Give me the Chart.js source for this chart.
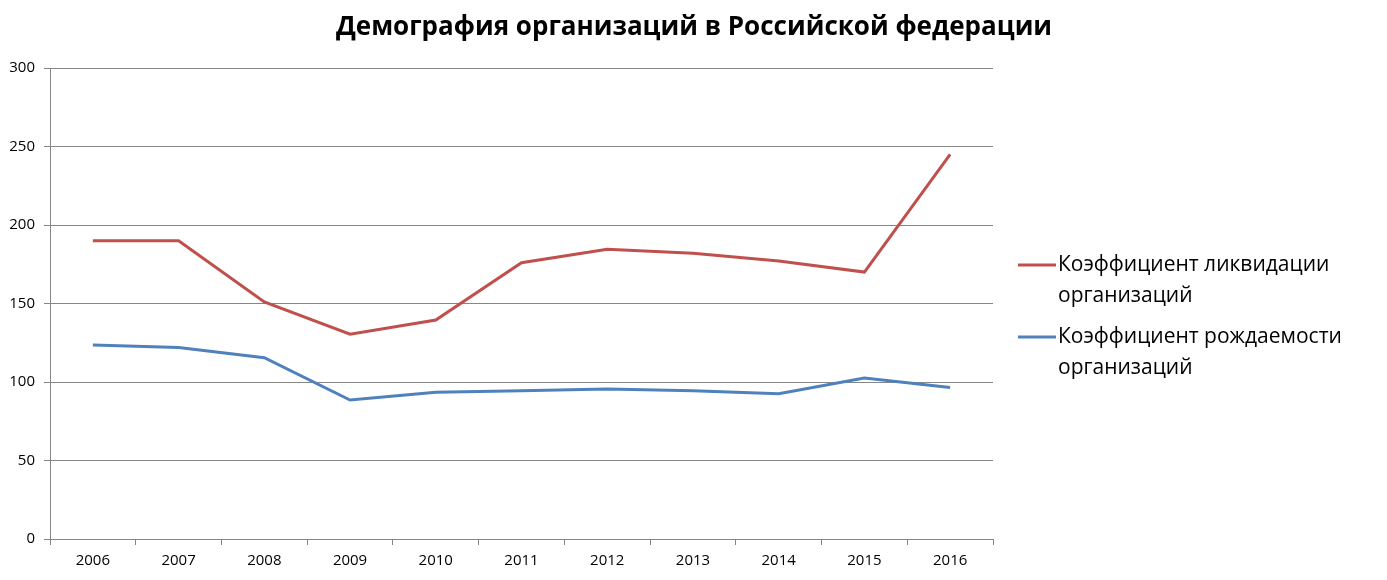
<!DOCTYPE html>
<html>
<head>
<meta charset="utf-8">
<script src="https://cdn.jsdelivr.net/npm/chart.js@4"></script>
<style>
  html, body { margin: 0; padding: 0; background: #fff; }
  #wrap { width: 1387px; height: 580px; }
</style>
</head>
<body>
<div id="wrap"><canvas id="chart" width="1387" height="580"></canvas></div>
<script>
const years = ['2006', '2007', '2008', '2009', '2010', '2011', '2012', '2013', '2014', '2015', '2016'];
const liquidation = [190, 190, 151, 130.5, 139.5, 176, 184.5, 182, 177, 170, 245];
const birth = [123.5, 122, 115.5, 88.5, 93.5, 94.5, 95.5, 94.5, 92.5, 102.5, 96.5];
const legendLines = [
    ['Коэффициент ликвидации', 'организаций'],
    ['Коэффициент рождаемости', 'организаций']
];
const yTicks = [0, 50, 100, 150, 200, 250, 300];

const titleText = 'Демография организаций в Российской федерации';

// title + wrapped legend drawn by hand
const decor = {
    id: 'decor',
    afterDraw(chart) {
        const ctx = chart.ctx;
        ctx.save();
        ctx.fillStyle = '#000';
        ctx.font = 'bold 26px "Open Sans"';
        ctx.textAlign = 'center';
        ctx.textBaseline = 'middle';
        ctx.fillText(titleText, 694, 28);

        ctx.font = '21px "Open Sans"';
        ctx.textAlign = 'left';
        chart.data.datasets.forEach((ds, i) => {
            const y0 = 265 + i * 72;
            ctx.strokeStyle = ds.borderColor;
            ctx.lineWidth = 3;
            ctx.beginPath();
            ctx.moveTo(1018, y0);
            ctx.lineTo(1056, y0);
            ctx.stroke();
            legendLines[i].forEach((line, j) => {
                ctx.fillText(line, 1058, y0 + j * 31);
            });
        });
        ctx.restore();
    }
};

new Chart(document.getElementById('chart'), {
    type: 'line',
    data: {
        labels: years,
        datasets: [
            { label: legendLines[0].join(' '), data: liquidation, borderColor: '#C0504D' },
            { label: legendLines[1].join(' '), data: birth, borderColor: '#4F81BD' }
        ]
    },
    options: {
        responsive: false,
        animation: false,
        layout: { padding: { top: 68, right: 394, left: 0, bottom: 0 } },
        elements: {
            line: { borderWidth: 3, tension: 0 },
            point: { radius: 0 }
        },
        plugins: {
            legend: { display: false },
            title: { display: false },
            tooltip: { enabled: false }
        },
        scales: {
            x: {
                offset: true,
                grid: { offset: true, drawOnChartArea: false, tickLength: 6, color: '#868686' },
                border: { color: '#868686' },
                ticks: { color: '#000', font: { family: '"Open Sans"', size: 15 }, padding: 7, maxRotation: 0 },
                afterFit(s) { s.height = 41; }
            },
            y: {
                min: 0,
                max: 300,
                afterBuildTicks(s) { s.ticks = yTicks.map(v => ({ value: v })); },
                grid: { color: '#868686', tickLength: 6 },
                border: { color: '#868686' },
                ticks: { color: '#000', font: { family: '"Open Sans"', size: 15 }, padding: 9 },
                afterFit(s) { s.width = 50; }
            }
        }
    },
    plugins: [decor]
});
</script>
</body>
</html>
